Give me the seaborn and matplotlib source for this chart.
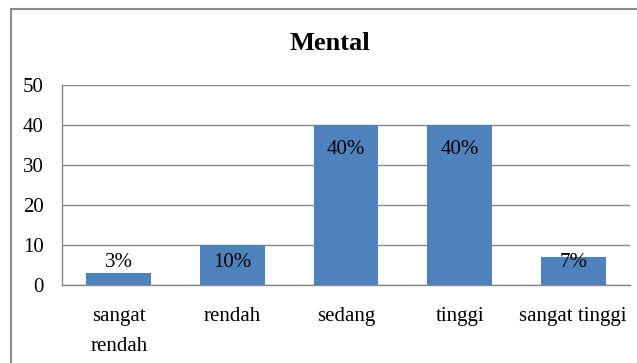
import matplotlib
matplotlib.use("Agg")
import matplotlib.pyplot as plt
import seaborn as sns
import pandas as pd
from matplotlib.patches import Rectangle

categories = ["sangat\nrendah", "rendah", "sedang", "tinggi", "sangat tinggi"]
values = [3, 10, 40, 40, 7]
labels = ["3%", "10%", "40%", "40%", "7%"]

df = pd.DataFrame({"kategori": categories, "nilai": values})

sns.set_style("white")
plt.rcParams["font.family"] = ["Liberation Serif", "DejaVu Serif"]
plt.rcParams["text.color"] = "black"
plt.rcParams["xtick.color"] = "black"
plt.rcParams["ytick.color"] = "black"

fig = plt.figure(figsize=(6.37, 3.63), dpi=100)
ax = fig.add_axes([0.0973, 0.2149, 0.8917, 0.5509])

sns.barplot(x="kategori", y="nilai", data=df, color="#4F81BD", width=0.57,
            saturation=1, linewidth=0, ax=ax, zorder=3)

ax.set_ylim(0, 50)
ax.set_xlim(-0.5, 4.5)
ax.set_yticks(range(0, 51, 10))
ax.yaxis.grid(True, color="#878787", linewidth=1, zorder=0)
ax.set_axisbelow(True)
ax.set_xlabel("")
ax.set_ylabel("")
ax.tick_params(axis="y", length=0, pad=13, labelsize=15)
ax.tick_params(axis="x", length=0, pad=16, labelsize=15)
for lab in ax.get_xticklabels():
    lab.set_linespacing(1.75)
    lab.set_verticalalignment("top")

for side in ["top", "right"]:
    ax.spines[side].set_visible(False)
for side in ["left", "bottom"]:
    ax.spines[side].set_color("#878787")
    ax.spines[side].set_linewidth(1)

# data labels, Excel style (inside end, pushed out for short bars)
for i, (v, t) in enumerate(zip(values, labels)):
    ax.text(i, max(v - 6, 5.5), t, ha="center", va="center", fontsize=15,
            color="black", zorder=4)

fig.text(0.518, 0.8815, "Mental", ha="center", va="center", fontsize=19,
         fontweight="bold", color="black")

# chart area border
fig.patches.append(Rectangle((11 / 637, -0.1), 1.2, 0.1 + (363 - 9) / 363,
                             transform=fig.transFigure, fill=False,
                             edgecolor="#8a8a8a", linewidth=1.5))

fig.savefig("out.png", dpi=100)
